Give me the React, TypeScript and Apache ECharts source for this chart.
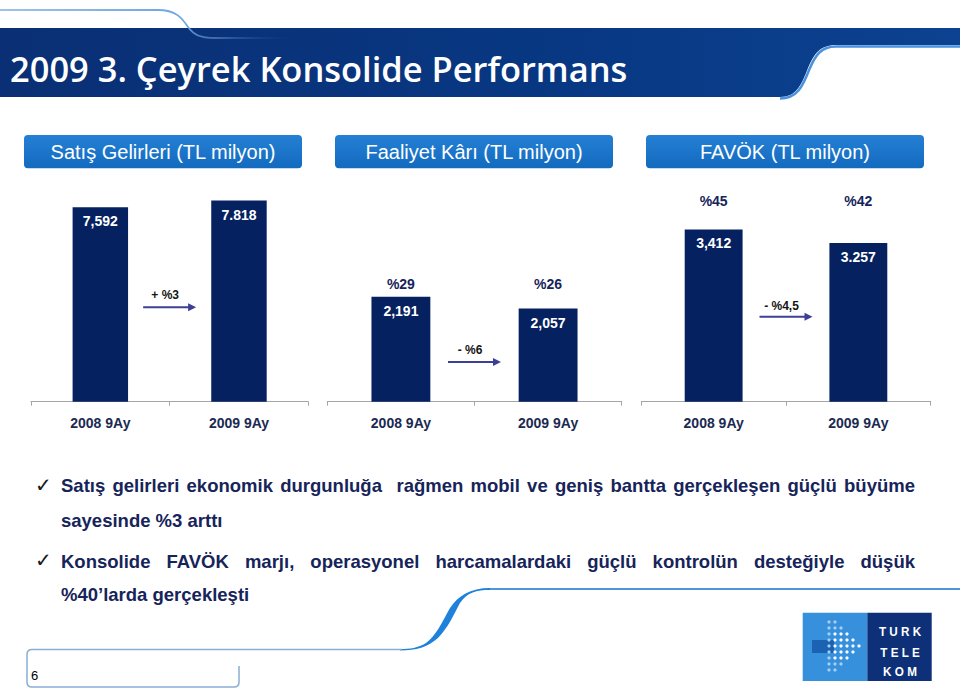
import React, { useEffect, useRef } from 'react';
import * as echarts from 'echarts';

// ---------- data ----------
const categories = ['2008 9Ay', '2009 9Ay'];
const salesValues = [7592, 7818];
const salesLabels = ['7,592', '7.818'];
const opProfitValues = [2191, 2057];
const opProfitLabels = ['2,191', '2,057'];
const opMarginLabels = ['%29', '%26'];
const ebitdaValues = [3412, 3257];
const ebitdaLabels = ['3,412', '3.257'];
const ebitdaMarginLabels = ['%45', '%42'];
const changeLabels = ['+ %3', '- %6', '- %4,5'];
const panelTitles = ['Satış Gelirleri (TL milyon)', 'Faaliyet Kârı (TL milyon)', 'FAVÖK (TL milyon)'];
const axisMins = [1000, 1000, 1450];
const axisMaxs = [8177, 3401, 3861];
const titleText = '2009 3. Çeyrek Konsolide Performans';
const bullet1Line1 = 'Satış gelirleri ekonomik durgunluğa  rağmen mobil ve geniş bantta gerçekleşen güçlü büyüme';
const bullet1Line2 = 'sayesinde %3 arttı';
const bullet2Line1 = 'Konsolide FAVÖK marjı, operasyonel harcamalardaki güçlü kontrolün desteğiyle düşük';
const bullet2Line2 = '%40’larda gerçekleşti';
const pageNumber = '6';
const logoLines = ['T U R K', 'T E L E', 'K O M'];

const seriesValues = [salesValues, opProfitValues, ebitdaValues];
const seriesLabels = [salesLabels, opProfitLabels, ebitdaLabels];
const marginLabels: (string[] | null)[] = [null, opMarginLabels, ebitdaMarginLabels];

// ---------- layout ----------
const FONT = '"Liberation Sans", Arial, Helvetica, sans-serif';
const TITLE_FONT = '"Open Sans", "Liberation Sans", sans-serif';
const NAVY_TEXT = '#16245a';
const BAR = '#06215f';
const GRIDS = [
  { left: 31, width: 277.3 },
  { left: 327.3, width: 294.4 },
  { left: 641.3, width: 289.4 },
];
const GRID_TOP = 190;
const GRID_H = 211.7;
const marginLabelY = [0, 283.5, 201];
const arrowY = [307.3, 362, 316.7];
const changeLabelY = [295, 350, 305.5];
const buttons = [
  { x: 24, w: 278, tx: 163 },
  { x: 335, w: 278, tx: 474 },
  { x: 646, w: 278, tx: 785 },
];

echarts.graphic.registerShape(
  'ttBand',
  echarts.graphic.extendPath(
    'M0 28 L960 28 L960 45 L836 45 C820 45 814 54 808 68 C801 86 796 97 780 97 L0 97 Z',
    {}
  )
);
echarts.graphic.registerShape(
  'ttBandEdge',
  echarts.graphic.extendPath(
    'M960 46.5 L836 46.5 C821 46.5 815.5 55 809.5 69 C802.5 87 797 98.5 780 98.5',
    {}
  )
);
echarts.graphic.registerShape(
  'ttTopCurve',
  echarts.graphic.extendPath('M0 10 L158 10 C176 10 182 18 188 27 C194 35 200 38 215 38 L300 38', {})
);
echarts.graphic.registerShape(
  'ttSwoosh',
  echarts.graphic.extendPath(
    'M490 588 C470 588 458 596 450 608 C442 622 436 636 426 643 C418 648 410 649 400 649 L400 650.5 C416 650.5 428 647 438 638 C448 628 454 614 460 603 C468 592 476 590 490 590 Z',
    {}
  )
);
echarts.graphic.registerShape(
  'ttFootBox',
  echarts.graphic.extendPath(
    'M402 649.5 L32 649.5 Q27 649.5 27 654.5 L27 682 Q27 687 32 687 L234 687 Q239 687 239 682 L239 666',
    {}
  )
);

function measureFactory(font: string) {
  const c = document.createElement('canvas');
  const ctx = c.getContext('2d')!;
  return (t: string) => {
    ctx.font = font;
    return ctx.measureText(t).width;
  };
}

export default function App() {
  const ref = useRef<HTMLDivElement>(null);

  useEffect(() => {
    document.body.style.margin = '0';
    const chart = echarts.init(ref.current!, null, { renderer: 'svg' });

    const option: any = {
      animation: false,
      backgroundColor: '#ffffff',
      grid: GRIDS.map((g) => ({ left: g.left, width: g.width, top: GRID_TOP, height: GRID_H })),
      xAxis: GRIDS.map((_, i) => ({
        type: 'category',
        gridIndex: i,
        data: categories,
        axisLine: { show: true, lineStyle: { color: '#a6a6a6', width: 1 } },
        axisTick: { show: true, length: 4, lineStyle: { color: '#a6a6a6', width: 1 } },
        axisLabel: {
          margin: 14,
          color: '#1b2a52',
          fontWeight: 'bold',
          fontSize: 14,
          fontFamily: FONT,
        },
      })),
      yAxis: GRIDS.map((_, i) => ({
        type: 'value',
        gridIndex: i,
        min: axisMins[i],
        max: axisMaxs[i],
        show: false,
      })),
      series: GRIDS.map((_, i) => ({
        type: 'bar',
        xAxisIndex: i,
        yAxisIndex: i,
        data: seriesValues[i],
        barWidth: '40%',
        itemStyle: { color: BAR },
        label: {
          show: true,
          position: 'insideTop',
          distance: 7,
          color: '#ffffff',
          fontWeight: 'bold',
          fontSize: 14,
          fontFamily: FONT,
          formatter: (p: any) => seriesLabels[i][p.dataIndex],
        },
      })),
    };
    chart.setOption(option);

    const graphic: any[] = [];

    // title band
    graphic.push({
      type: 'ttBand',
      x: 0,
      y: 0,
      style: {
        fill: new echarts.graphic.LinearGradient(0, 0, 1, 0, [
          { offset: 0, color: '#0a2f74' },
          { offset: 0.6, color: '#083883' },
          { offset: 1, color: '#0c4291' },
        ]),
      },
    });
    graphic.push({
      type: 'ttBandEdge',
      x: 0,
      y: 0,
      style: { fill: null, stroke: '#4a92de', lineWidth: 2.5 },
    });
    graphic.push({
      type: 'ttTopCurve',
      x: 0,
      y: 0,
      style: {
        fill: null,
        lineWidth: 1.8,
        stroke: new echarts.graphic.LinearGradient(0, 0, 1, 0, [
          { offset: 0, color: '#9fc3e8' },
          { offset: 0.6, color: '#6ea6df' },
          { offset: 1, color: 'rgba(10,52,128,0)' },
        ]),
      },
    });

    const measureTitle = measureFactory(`600 34px ${TITLE_FONT}`);
    const tw = measureTitle(titleText);
    const titleScale = Math.max(0.85, Math.min(1.15, 618 / tw));
    graphic.push({
      type: 'text',
      x: 10,
      y: 69,
      scaleX: titleScale,
      style: {
        text: titleText,
        fill: '#ffffff',
        font: `600 34px ${TITLE_FONT}`,
        verticalAlign: 'middle',
        align: 'left',
      },
    });

    // panel header buttons
    buttons.forEach((b, i) => {
      graphic.push({
        type: 'rect',
        shape: { x: b.x, y: 135, width: b.w, height: 33.3, r: 4 },
        style: {
          fill: new echarts.graphic.LinearGradient(0, 0, 0, 1, [
            { offset: 0, color: '#2480d4' },
            { offset: 1, color: '#136abf' },
          ]),
        },
      });
      graphic.push({
        type: 'text',
        x: b.tx,
        y: 152,
        style: {
          text: panelTitles[i],
          fill: '#ffffff',
          font: `20px ${FONT}`,
          align: 'center',
          verticalAlign: 'middle',
        },
      });
    });

    // per-chart annotations
    GRIDS.forEach((_, i) => {
      const p0 = chart.convertToPixel({ xAxisIndex: i } as any, 0) as unknown as number;
      const p1 = chart.convertToPixel({ xAxisIndex: i } as any, 1) as unknown as number;
      const mid = (p0 + p1) / 2;
      const ml = marginLabels[i];
      if (ml) {
        [p0, p1].forEach((px, k) => {
          graphic.push({
            type: 'text',
            x: px,
            y: marginLabelY[i],
            style: {
              text: ml[k],
              fill: NAVY_TEXT,
              font: `bold 14px ${FONT}`,
              align: 'center',
              verticalAlign: 'middle',
            },
          });
        });
      }
      const ay = arrowY[i];
      const ax0 = mid - 26.5;
      const ax1 = mid + 26.5;
      graphic.push({
        type: 'line',
        shape: { x1: ax0, y1: ay, x2: ax1 - 7, y2: ay },
        style: { stroke: '#3d3f97', lineWidth: 2 },
      });
      graphic.push({
        type: 'polygon',
        shape: {
          points: [
            [ax1 - 8, ay - 4],
            [ax1, ay],
            [ax1 - 8, ay + 4],
          ],
        },
        style: { fill: '#3d3f97' },
      });
      graphic.push({
        type: 'text',
        x: mid - 4.5,
        y: changeLabelY[i],
        style: {
          text: changeLabels[i],
          fill: '#141414',
          font: `bold 12px ${FONT}`,
          align: 'center',
          verticalAlign: 'middle',
        },
      });
    });

    // bullets
    const bulletFontStr = `bold 18.5px ${FONT}`;
    const measureB = measureFactory(bulletFontStr);
    const addLine = (text: string, y: number, justify: boolean) => {
      const x0 = 61;
      const x1 = 915;
      if (!justify) {
        graphic.push({
          type: 'text',
          x: x0,
          y,
          style: { text, fill: NAVY_TEXT, font: bulletFontStr, align: 'left', verticalAlign: 'middle' },
        });
        return;
      }
      const raw = text.split(' ');
      const words: string[] = [];
      const weights: number[] = [];
      let pending = 0;
      raw.forEach((w) => {
        if (w === '') {
          pending++;
          return;
        }
        if (words.length) weights.push(1 + pending);
        pending = 0;
        words.push(w);
      });
      const widths = words.map((w) => measureB(w));
      const total = widths.reduce((a, b) => a + b, 0);
      const wsum = weights.reduce((a, b) => a + b, 0);
      const unit = (x1 - x0 - total) / wsum;
      let x = x0;
      words.forEach((w, k) => {
        graphic.push({
          type: 'text',
          x,
          y,
          style: { text: w, fill: NAVY_TEXT, font: bulletFontStr, align: 'left', verticalAlign: 'middle' },
        });
        x += widths[k] + (k < weights.length ? weights[k] * unit : 0);
      });
    };
    [484.5, 559.5].forEach((cy) => {
      graphic.push({
        type: 'text',
        x: 35,
        y: cy,
        style: { text: '✓', fill: '#1a1a1a', font: `20px "DejaVu Sans", sans-serif`, align: 'left', verticalAlign: 'middle' },
      });
    });
    addLine(bullet1Line1, 485.5, true);
    addLine(bullet1Line2, 520, false);
    addLine(bullet2Line1, 561.5, true);
    addLine(bullet2Line2, 594.5, false);

    // bottom decorations
    graphic.push({
      type: 'line',
      shape: { x1: 488, y1: 589, x2: 960, y2: 589 },
      style: { stroke: '#4f95da', lineWidth: 2 },
    });
    graphic.push({
      type: 'ttSwoosh',
      x: 0,
      y: 0,
      style: { fill: '#1f82da' },
    });
    graphic.push({
      type: 'ttFootBox',
      x: 0,
      y: 0,
      style: { fill: null, stroke: '#8aaed6', lineWidth: 1.5 },
    });
    graphic.push({
      type: 'text',
      x: 31,
      y: 675,
      style: { text: pageNumber, fill: '#000000', font: `13px ${FONT}`, align: 'left', verticalAlign: 'middle' },
    });

    // logo
    graphic.push({
      type: 'rect',
      shape: { x: 802.7, y: 612.7, width: 64.6, height: 68.3 },
      style: { fill: '#3790dc' },
    });
    graphic.push({
      type: 'rect',
      shape: { x: 867.3, y: 612.7, width: 64.4, height: 68.3 },
      style: { fill: '#0d3079' },
    });
    graphic.push({
      type: 'rect',
      shape: { x: 812, y: 640, width: 22, height: 13 },
      style: { fill: '#1c62b2' },
    });
    const dotCols = [829, 835, 841, 847, 853, 859];
    dotCols.forEach((c) => {
      for (let r = 622; r <= 670; r += 6) {
        const dy = Math.abs(r - 646);
        if (dy <= (862 - c) * 0.9) {
          graphic.push({
            type: 'circle',
            shape: { cx: c, cy: r, r: 1.6 },
            style: { fill: dy <= 12 && c >= 835 ? '#ffffff' : '#a6d0f3' },
          });
        }
      }
    });
    [631.7, 652.3, 671.7].forEach((ly, k) => {
      graphic.push({
        type: 'text',
        x: 900,
        y: ly,
        scaleX: 0.9,
        style: {
          text: logoLines[k],
          fill: '#ffffff',
          font: `bold 13px ${FONT}`,
          align: 'center',
          verticalAlign: 'middle',
        },
      });
    });

    chart.setOption({ graphic });

    return () => {
      chart.dispose();
    };
  }, []);

  return <div ref={ref} style={{ width: 960, height: 692 }} />;
}
